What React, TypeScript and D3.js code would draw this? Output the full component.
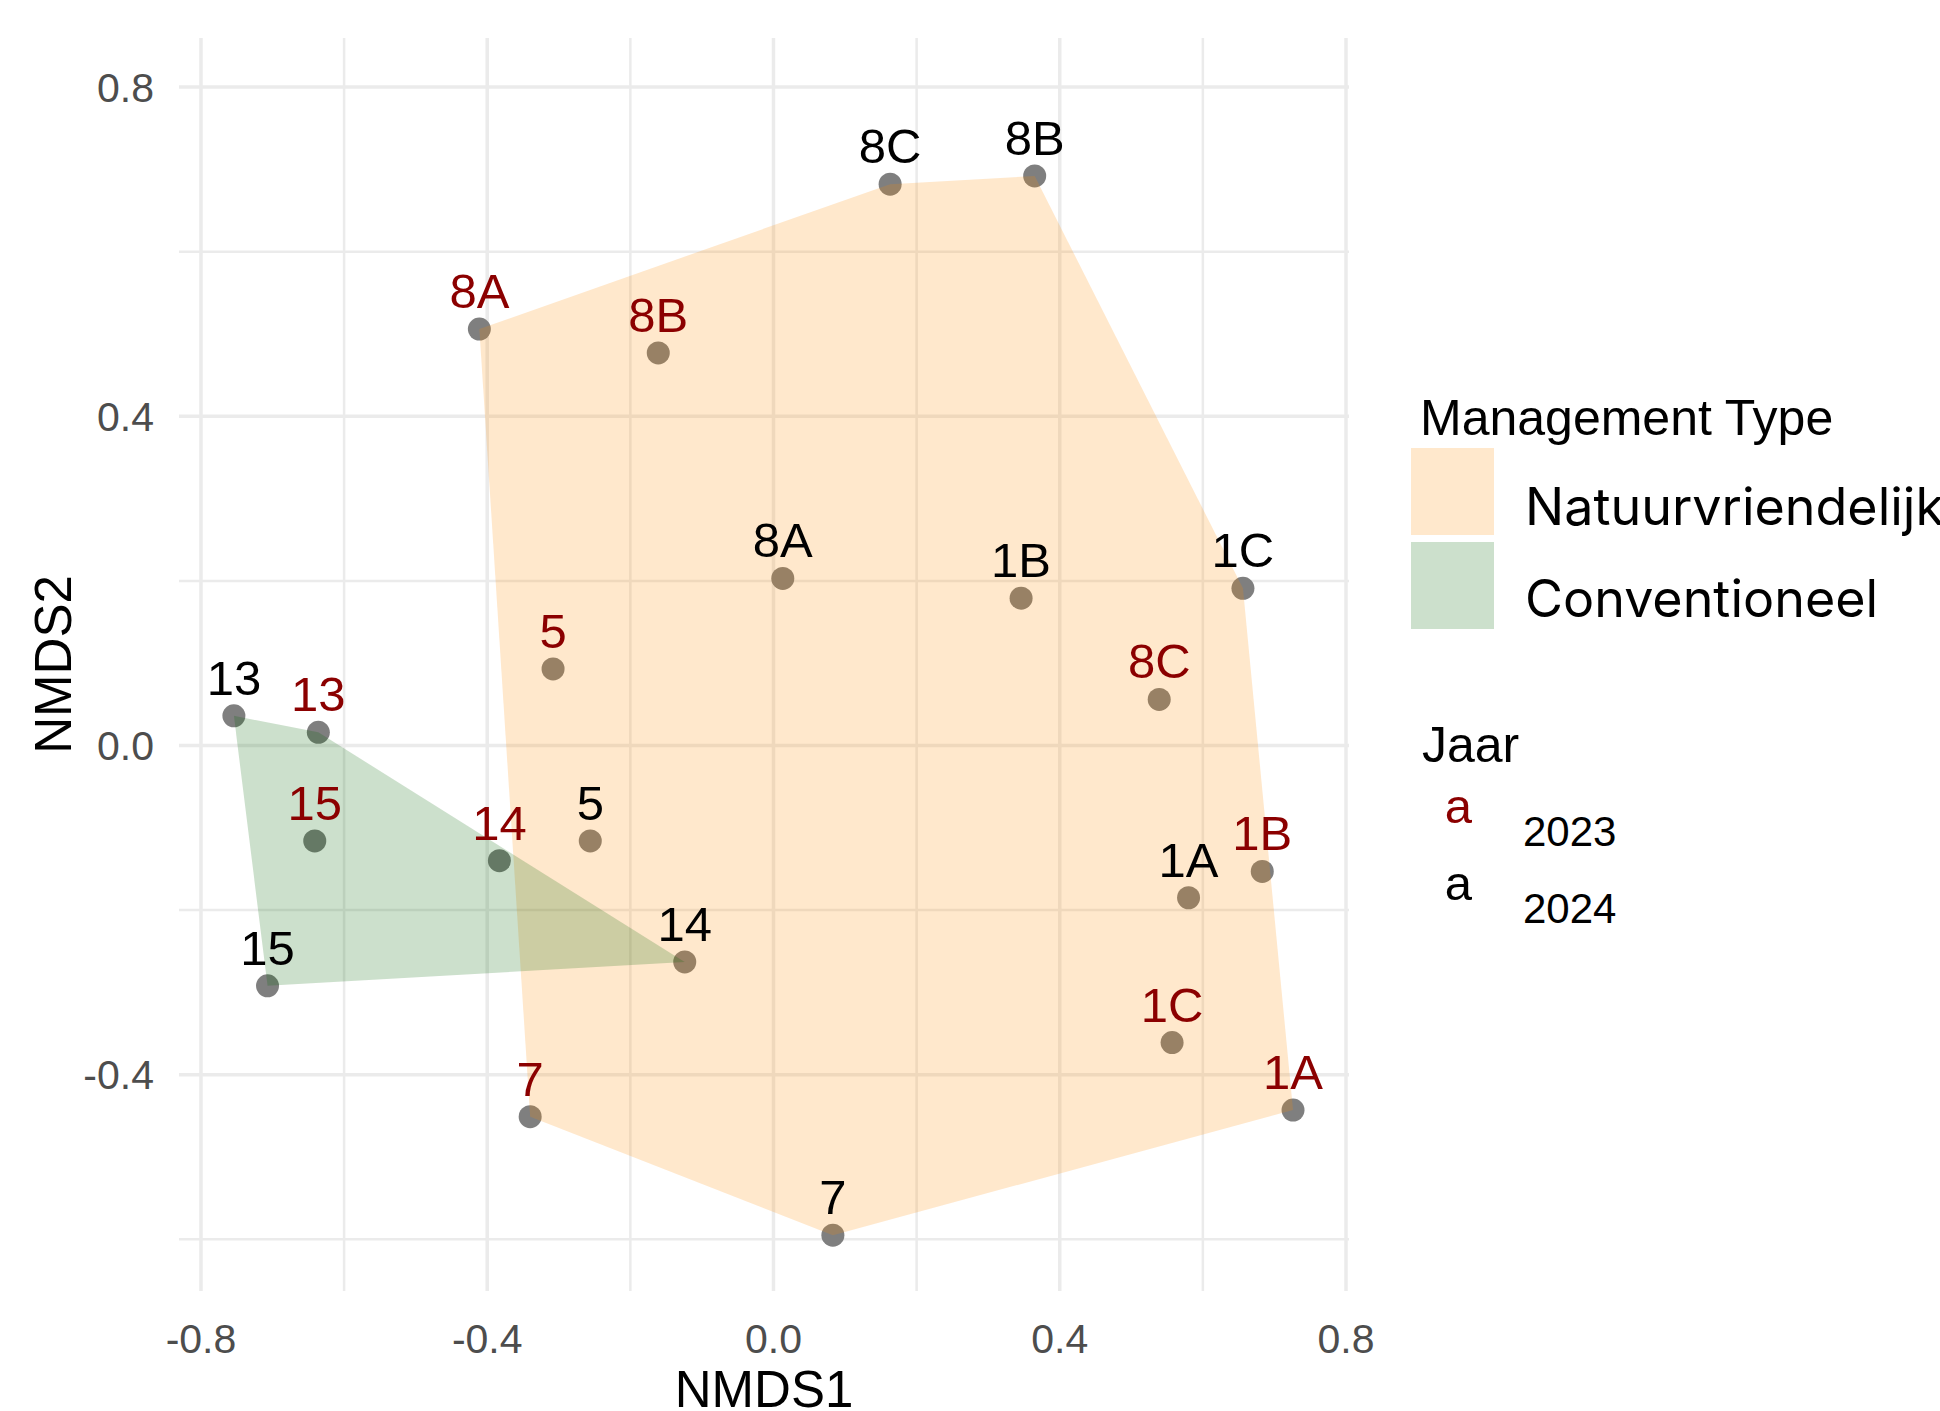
import React, { useMemo } from 'react';
import * as d3 from 'd3';

// NMDS scores per site and year
const siteLabels = ['8C', '8B', '8A', '1B', '1C', '13', '5', '14', '15', '1A', '7',
  '8A', '8B', '5', '13', '15', '14', '8C', '1B', '1C', '1A', '7'];
const siteYears = ['2024', '2024', '2024', '2024', '2024', '2024', '2024', '2024', '2024', '2024', '2024',
  '2023', '2023', '2023', '2023', '2023', '2023', '2023', '2023', '2023', '2023', '2023'];
const nmds1 = [0.163, 0.365, 0.013, 0.346, 0.656, -0.754, -0.256, -0.124, -0.707, 0.580, 0.083,
  -0.411, -0.161, -0.308, -0.636, -0.641, -0.383, 0.539, 0.683, 0.557, 0.726, -0.340];
const nmds2 = [0.682, 0.692, 0.203, 0.179, 0.191, 0.036, -0.116, -0.263, -0.292, -0.185, -0.595,
  0.506, 0.477, 0.093, 0.016, -0.116, -0.140, 0.056, -0.153, -0.361, -0.443, -0.451];
const managementOf = ['Natuurvriendelijk', 'Natuurvriendelijk', 'Natuurvriendelijk', 'Natuurvriendelijk',
  'Natuurvriendelijk', 'Conventioneel', 'Natuurvriendelijk', 'Conventioneel', 'Conventioneel',
  'Natuurvriendelijk', 'Natuurvriendelijk',
  'Natuurvriendelijk', 'Natuurvriendelijk', 'Natuurvriendelijk', 'Conventioneel', 'Conventioneel',
  'Conventioneel', 'Natuurvriendelijk', 'Natuurvriendelijk', 'Natuurvriendelijk', 'Natuurvriendelijk',
  'Natuurvriendelijk'];

const managementTypes = ['Natuurvriendelijk', 'Conventioneel'];
const managementColors = ['darkorange', 'darkgreen'];
const years = ['2023', '2024'];
const yearColors = ['darkred', 'black'];

const majorTicks = [-0.8, -0.4, 0, 0.4, 0.8];
const minorTicks = [-0.6, -0.2, 0.2, 0.6];
const yMajorTicks = [-0.4, 0, 0.4, 0.8];
const yMinorTicks = [-0.6, -0.2, 0.2, 0.6];

const W = 1940;
const H = 1411;
const panel = { left: 179, right: 1349, top: 38, bottom: 1291 };
const baseFont = '"Liberation Sans", Arial, sans-serif';

export default function App() {
  const x = d3.scaleLinear().domain([-0.8307, 0.8042]).range([panel.left, panel.right]);
  const y = d3.scaleLinear().domain([-0.6628, 0.8596]).range([panel.bottom, panel.top]);

  const points = useMemo(() => siteLabels.map((label, i) => ({
    label,
    year: siteYears[i],
    mgmt: managementOf[i],
    px: x(nmds1[i]),
    py: y(nmds2[i]),
  })), []);

  const hulls = managementTypes.map((m, i) => {
    const pts = points.filter(p => p.mgmt === m).map(p => [p.px, p.py] as [number, number]);
    const hull = d3.polygonHull(pts) || [];
    return { m, color: managementColors[i], d: 'M' + hull.map(p => p.join(',')).join('L') + 'Z' };
  });

  const yearColor = (yr: string) => yearColors[years.indexOf(yr)];
  // ggplot prints a plain hyphen for negatives
  const fmt = (v: number) => d3.format('.1f')(v).replace('\u2212', '-');

  return (
    <svg width={W} height={H} style={{ position: 'absolute', left: 0, top: 0, background: '#fff' }}
      fontFamily={baseFont}>
      {/* grid */}
      <g stroke="#EBEBEB">
        {minorTicks.map(t => (
          <line key={'xm' + t} x1={x(t)} x2={x(t)} y1={panel.top} y2={panel.bottom} strokeWidth={2.5} />
        ))}
        {yMinorTicks.map(t => (
          <line key={'ym' + t} y1={y(t)} y2={y(t)} x1={panel.left} x2={panel.right} strokeWidth={2.5} />
        ))}
        {majorTicks.map(t => (
          <line key={'xM' + t} x1={x(t)} x2={x(t)} y1={panel.top} y2={panel.bottom} strokeWidth={3.5} />
        ))}
        {yMajorTicks.map(t => (
          <line key={'yM' + t} y1={y(t)} y2={y(t)} x1={panel.left} x2={panel.right} strokeWidth={3.5} />
        ))}
      </g>

      {/* points */}
      <g fill="#7F7F7F">
        {points.map((p, i) => <circle key={i} cx={p.px} cy={p.py} r={11.5} />)}
      </g>

      {/* hulls */}
      {hulls.map(h => <path key={h.m} d={h.d} fill={h.color} fillOpacity={0.2} />)}

      {/* labels */}
      <g fontSize={49} textAnchor="middle">
        {points.map((p, i) => (
          <text key={i} x={p.px} y={p.py - 21} fill={yearColor(p.year)}>{p.label}</text>
        ))}
      </g>

      {/* axes */}
      <g fontSize={41} fill="#4D4D4D">
        {majorTicks.map(t => (
          <text key={'xt' + t} x={x(t)} y={1353} textAnchor="middle">{fmt(t)}</text>
        ))}
        {yMajorTicks.map(t => (
          <text key={'yt' + t} x={154} y={y(t) + 14.5} textAnchor="end">{fmt(t)}</text>
        ))}
      </g>
      <text x={(panel.left + panel.right) / 2} y={1407} fontSize={51} textAnchor="middle">NMDS1</text>
      <text transform={`translate(71,${(panel.top + panel.bottom) / 2}) rotate(-90)`} fontSize={51}
        textAnchor="middle">NMDS2</text>

      {/* legend: management type */}
      <text x={1420} y={435} fontSize={50}>Management Type</text>
      {managementTypes.map((m, i) => (
        <g key={m}>
          <rect x={1411} y={448 + i * 94} width={83} height={87} fill={managementColors[i]} fillOpacity={0.2} />
          <text x={1525} y={525 + i * 92} fontSize={52} fontFamily="Inter, sans-serif">{m}</text>
        </g>
      ))}

      {/* legend: year */}
      <text x={1422} y={762} fontSize={50}>Jaar</text>
      {years.map((yr, i) => (
        <g key={yr}>
          <text x={1458.5} y={823 + i * 77} fontSize={49} textAnchor="middle" fill={yearColors[i]}>a</text>
          <text x={1523} y={846 + i * 77} fontSize={42}>{yr}</text>
        </g>
      ))}
    </svg>
  );
}
